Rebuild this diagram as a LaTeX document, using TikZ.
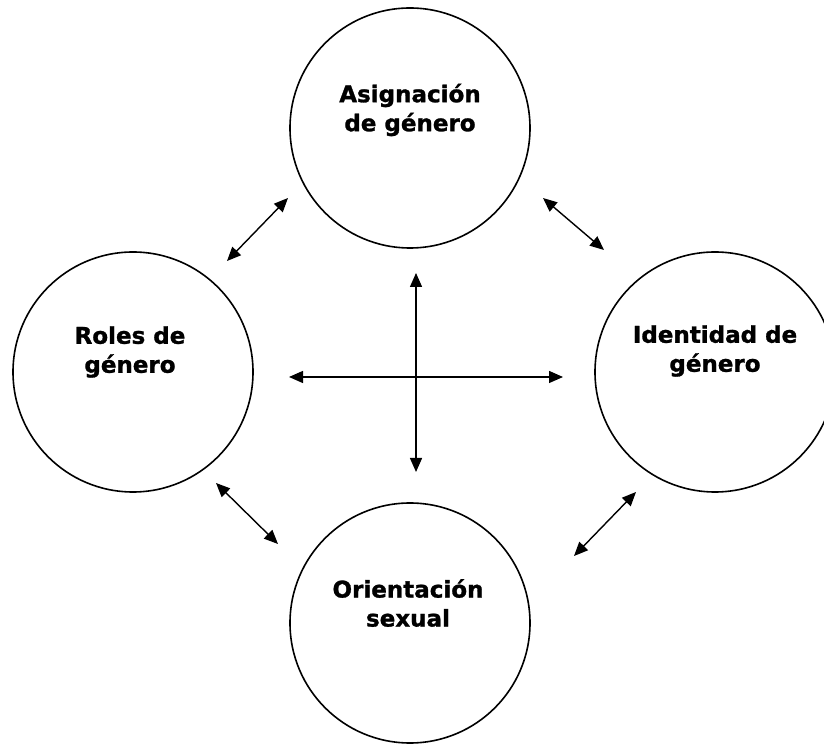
\documentclass[tikz,border=0pt]{standalone}
\usepackage{fontspec}
\setmainfont{DejaVu Sans}
\newfontfamily\lblfont[FakeBold=1.2]{DejaVu Sans Bold}
\usetikzlibrary{arrows.meta}
\begin{document}
\begin{tikzpicture}[x=1pt,y=1pt,
  circ/.style={draw=black,line width=1.6pt,circle,minimum size=240pt,inner sep=0pt},
  lbl/.style={align=center,font=\lblfont\fontsize{23}{29}\selectfont},
  dbl/.style={{Triangle[length=14pt,width=12pt]}-{Triangle[length=14pt,width=12pt]},line width=1.4pt}]
\useasboundingbox (0,0) rectangle (824,744);
\fill[white] (0,0) rectangle (824,744);
\begin{scope}
\clip (0,0) rectangle (824,744);
\node[circ] (asig) at (410,616) {};
\node[circ] (roles) at (133,372) {};
\node[circ] (ident) at (715,372) {};
\node[circ] (orient) at (410,121) {};
\end{scope}
\node[lbl] (tasig) at ([yshift=18pt]asig.center) {Asignación\\de género};
\node[lbl] (troles) at ([yshift=20pt,xshift=-3pt]roles.center) {Roles de\\género};
\node[lbl] (tident) at ([yshift=21pt]ident.center) {Identidad de\\género};
\node[lbl] (torient) at ([yshift=20pt,xshift=-2pt]orient.center) {Orientación\\sexual};
% cross
\coordinate (hl) at (289,367);
\coordinate (hr) at (563,367);
\coordinate (vt) at (416,471);
\coordinate (vb) at (416,272);
\draw[dbl] (hl) -- (hr);
\draw[dbl] (vt) -- (vb);
% diagonals
\coordinate (tl1) at (288,546); \coordinate (tl2) at (227,483);
\coordinate (tr1) at (543,546); \coordinate (tr2) at (604,494);
\coordinate (bl1) at (216,261); \coordinate (bl2) at (278,200);
\coordinate (br1) at (636,252); \coordinate (br2) at (574,188);
\draw[dbl] (tl1) -- (tl2);
\draw[dbl] (tr1) -- (tr2);
\draw[dbl] (bl1) -- (bl2);
\draw[dbl] (br1) -- (br2);
\end{tikzpicture}
\end{document}
